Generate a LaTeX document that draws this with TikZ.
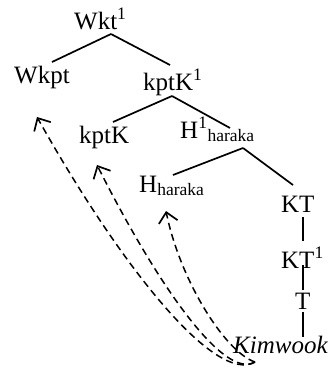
\documentclass[tikz,border=0pt]{standalone}
\usepackage{fontspec}
\setmainfont{Liberation Serif}
\usetikzlibrary{arrows.meta}
\begin{document}
\begin{tikzpicture}[x=1pt,y=-1pt,
    lbl/.style={inner sep=0pt,anchor=base west,font=\fontsize{25}{30}\selectfont},
    branch/.style={line width=1.7pt},
    move/.style={line width=1.5pt,dash pattern=on 7pt off 4.5pt,
      -{Straight Barb[length=10pt,width=19pt,line width=1.7pt]}}]
  \useasboundingbox (0,0) rectangle (331,376);

  %% labels
  \node[lbl] (wkt)   at (74,29)   {Wkt\textsuperscript{1}};
  \node[lbl] (wkpt)  at (14,83)   {Wkpt};
  \node[lbl] (kptk1) at (143,90)  {kptK\textsuperscript{1}};
  \node[lbl] (kptk)  at (79,143)  {kptK};
  \node[lbl] (h1)    at (180,138) {H\textsuperscript{1}\textsubscript{haraka}};
  \node[lbl] (h)     at (139,192) {H\textsubscript{haraka}};
  \node[lbl] (kt)    at (281,212) {KT};
  \node[lbl] (kt1)   at (281,268) {KT\textsuperscript{1}};
  \node[lbl] (t)     at (295,309) {T};
  \node[lbl] (kim)   at (233,353) {\itshape Kimwook};

  %% branches
  \draw[branch] ([shift={(37,5)}]wkt.base west) -- ([shift={(38,-21)}]wkpt.base west);
  \draw[branch] ([shift={(37,5)}]wkt.base west) -- ([shift={(27,-25)}]kptk1.base west);
  \draw[branch] ([shift={(29,6)}]kptk1.base west) -- ([shift={(34,-21)}]kptk.base west);
  \draw[branch] ([shift={(29,6)}]kptk1.base west) -- ([shift={(50,-10)}]h1.base west);
  \draw[branch] ([shift={(63,10)}]h1.base west) -- ([shift={(34,-17)}]h.base west);
  \draw[branch] ([shift={(63,10)}]h1.base west) -- ([shift={(12,-27)}]kt.base west);
  \draw[branch] ([shift={(22,5)}]kt.base west) -- ([shift={(22,-27)}]kt1.base west);
  \draw[branch] ([shift={(22,-3)}]kt1.base west) -- ([shift={(8,-19)}]t.base west);
  \draw[branch] ([shift={(8,3)}]t.base west) -- ([shift={(70,-16)}]kim.base west);

  %% movements
  \coordinate (src) at ([shift={(22,9)}]kim.base west);
  \draw[move] (src) .. controls (215,385) and (120,265) .. ([shift={(23,34)}]wkpt.base west);
  \draw[move] (src) .. controls (225,380) and (160,290) .. ([shift={(18,22)}]kptk.base west);
  \draw[move] (src) .. controls (225,352) and (180,280) .. ([shift={(27,19)}]h.base west);
\end{tikzpicture}
\end{document}
